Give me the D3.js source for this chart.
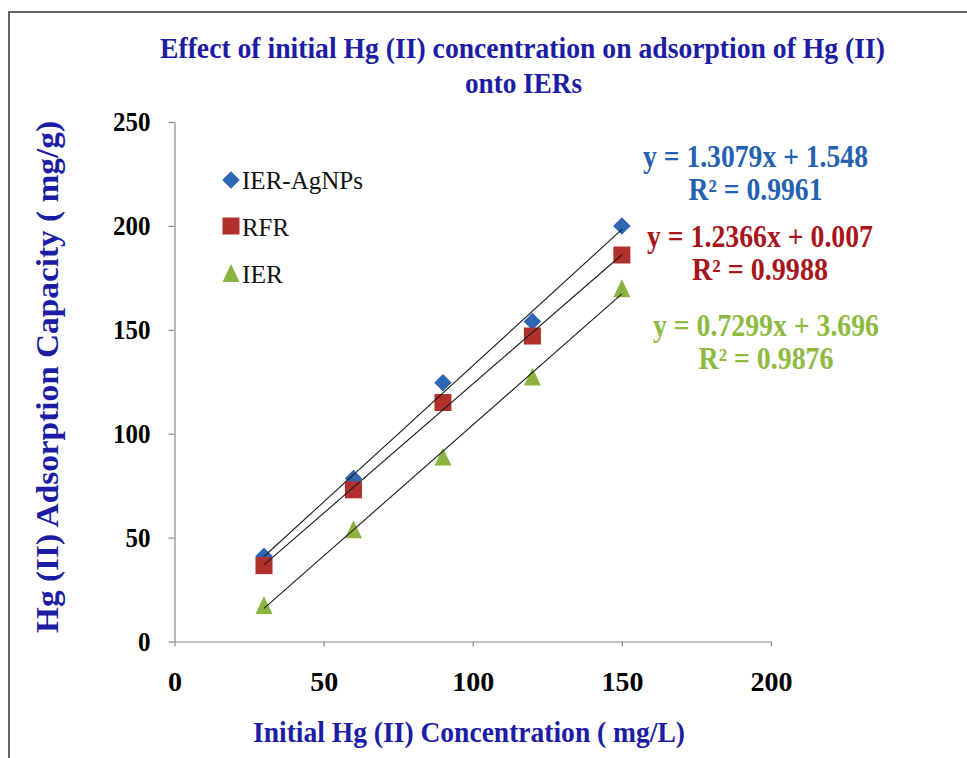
<!DOCTYPE html>
<html>
<head>
<meta charset="utf-8">
<script src="https://cdn.jsdelivr.net/npm/d3@7"></script>
<style>
  body { margin: 0; background: #fff; }
  svg { display: block; }
</style>
</head>
<body>
<svg id="chart" width="967" height="758"></svg>
<script>
// Initial Hg(II) concentration (mg/L) and adsorption capacity (mg/g) of each resin
const concentrations = [30, 60, 90, 120, 150];
const seriesNames = ["IER-AgNPs", "RFR", "IER"];
const agnpsValues = [41, 78.5, 124.5, 154, 200];
const rfrValues = [36.5, 73, 115, 147, 186];
const ierValues = [17.5, 54, 89, 127.5, 170];
const equationLines = [
  ["y = 1.3079x + 1.548", "R² = 0.9961"],
  ["y = 1.2366x + 0.007", "R² = 0.9988"],
  ["y = 0.7299x + 3.696", "R² = 0.9876"]
];
const xTickValues = [0, 50, 100, 150, 200];
const yTickValues = [0, 50, 100, 150, 200, 250];

const titleLines = ["Effect of initial Hg (II) concentration on adsorption of Hg (II)", "onto IERs"];
const xTitle = "Initial Hg (II) Concentration ( mg/L)";
const yTitle = "Hg (II) Adsorption Capacity ( mg/g)";

const seriesValues = [agnpsValues, rfrValues, ierValues];
const markerColors = ["#2E66B4", "#B2302C", "#8AB33F"];
const equationColors = ["#2461B0", "#A8161C", "#8DBB3F"];
const titleColor = "#1C1CA4";
const serif = "'Liberation Serif', 'Times New Roman', serif";

const svg = d3.select("#chart");

// outer frame of the chart area
svg.append("rect")
  .attr("x", 9).attr("y", 12)
  .attr("width", 1000).attr("height", 800)
  .attr("fill", "#fff")
  .attr("stroke", "#666").attr("stroke-width", 2);

const x = d3.scaleLinear().domain([0, 200]).range([174.5, 771]);
const y = d3.scaleLinear().domain([0, 250]).range([641.5, 122]);

// Excel-like marker shapes
const diamondShape = {
  draw(ctx, size) {
    const r = Math.sqrt(size) / 2;
    ctx.moveTo(0, -r); ctx.lineTo(r, 0); ctx.lineTo(0, r); ctx.lineTo(-r, 0); ctx.closePath();
  }
};
const squareShape = {
  draw(ctx, size) {
    const r = Math.sqrt(size) / 2;
    ctx.rect(-r, -r, 2 * r, 2 * r);
  }
};
const triangleShape = {
  draw(ctx, size) {
    const r = Math.sqrt(size) / 2;
    ctx.moveTo(0, -r * 1.05); ctx.lineTo(r, r * 1.05); ctx.lineTo(-r, r * 1.05); ctx.closePath();
  }
};
const shapes = [diamondShape, squareShape, triangleShape];
const shapeSizes = [17.5 * 17.5, 17 * 17, 17 * 17];

// axes
const axisColor = "#8a8a8a";
const xAxis = d3.axisBottom(x).tickValues(xTickValues).tickSize(5).tickSizeOuter(0).tickPadding(25);
const yAxis = d3.axisLeft(y).tickValues(yTickValues).tickSize(6).tickSizeOuter(0).tickPadding(18);

const gx = svg.append("g").attr("transform", `translate(0,${y(0)})`).call(xAxis);
const gy = svg.append("g").attr("transform", `translate(${x(0)},0)`).call(yAxis);

[[gx, 14], [gy, 12.5]].forEach(([g, digitWidth]) => {
  g.select(".domain").attr("stroke", axisColor).attr("stroke-width", 1.2);
  g.selectAll(".tick line").attr("stroke", axisColor).attr("stroke-width", 1.2);
  g.selectAll(".tick text")
    .attr("fill", "#000")
    .attr("textLength", d => String(d).length * digitWidth)
    .attr("lengthAdjust", "spacingAndGlyphs")
    .style("font-family", serif)
    .style("font-weight", "bold")
    .style("font-size", "28px");
});

// data markers
seriesValues.forEach((vals, si) => {
  const sym = d3.symbol().type(shapes[si]).size(shapeSizes[si]);
  svg.append("g")
    .selectAll("path")
    .data(vals.map((v, i) => [concentrations[i], v]))
    .join("path")
    .attr("d", sym)
    .attr("transform", d => `translate(${x(d[0])},${y(d[1])})`)
    .attr("fill", markerColors[si]);
});

// linear trend lines from least-squares fits
function linearFit(xs, ys) {
  const mx = d3.mean(xs), my = d3.mean(ys);
  const sxy = d3.sum(xs, (v, i) => (v - mx) * (ys[i] - my));
  const sxx = d3.sum(xs, v => (v - mx) * (v - mx));
  const slope = sxy / sxx;
  return { slope, intercept: my - slope * mx };
}
const line = d3.line().x(d => x(d[0])).y(d => y(d[1]));
seriesValues.forEach(vals => {
  const f = linearFit(concentrations, vals);
  const ends = d3.extent(concentrations).map(c => [c, f.intercept + f.slope * c]);
  svg.append("path")
    .attr("d", line(ends))
    .attr("fill", "none")
    .attr("stroke", "#1a1a1a")
    .attr("stroke-width", 1.1);
});

// legend
const legendRows = [189, 236, 283];
const legendMarkerY = [180, 226, 273];
seriesNames.forEach((name, si) => {
  svg.append("path")
    .attr("d", d3.symbol().type(shapes[si]).size(shapeSizes[si])())
    .attr("transform", `translate(231,${legendMarkerY[si]})`)
    .attr("fill", markerColors[si]);
  svg.append("text")
    .attr("x", 242).attr("y", legendRows[si])
    .style("font-family", serif)
    .style("font-size", "26px")
    .attr("textLength", [121, 47, 41][si])
    .attr("lengthAdjust", "spacingAndGlyphs")
    .attr("fill", "#111")
    .text(name);
});

// trend line equations
const eqCenters = [[755.5, 167, 225], [760, 247, 226], [766, 336, 226]];
const r2Widths = [134, 136, 135];
equationLines.forEach((pair, si) => {
  const [cx, by, w] = eqCenters[si];
  pair.forEach((txt, li) => {
    svg.append("text")
      .attr("x", cx).attr("y", by + li * 33)
      .attr("text-anchor", "middle")
      .attr("textLength", li === 0 ? w : r2Widths[si])
      .attr("lengthAdjust", "spacingAndGlyphs")
      .style("font-family", serif)
      .style("font-weight", "bold")
      .style("font-size", "31px")
      .attr("fill", equationColors[si])
      .text(txt);
  });
});

// chart title
const titleWidths = [725, 117];
const titleBaselines = [58, 93];
titleLines.forEach((t, i) => {
  svg.append("text")
    .attr("x", i === 0 ? 522.5 : 523.5).attr("y", titleBaselines[i])
    .attr("text-anchor", "middle")
    .attr("textLength", titleWidths[i])
    .attr("lengthAdjust", "spacingAndGlyphs")
    .style("font-family", serif)
    .style("font-weight", "bold")
    .style("font-size", "28.5px")
    .attr("fill", titleColor)
    .text(t);
});

// axis titles
svg.append("text")
  .attr("x", 469).attr("y", 742)
  .attr("text-anchor", "middle")
  .attr("textLength", 432)
  .attr("lengthAdjust", "spacingAndGlyphs")
  .style("font-family", serif)
  .style("font-weight", "bold")
  .style("font-size", "30px")
  .attr("fill", titleColor)
  .text(xTitle);

svg.append("text")
  .attr("transform", "translate(58,377) rotate(-90)")
  .attr("text-anchor", "middle")
  .attr("textLength", 512)
  .attr("lengthAdjust", "spacingAndGlyphs")
  .style("font-family", serif)
  .style("font-weight", "bold")
  .style("font-size", "31px")
  .attr("fill", titleColor)
  .text(yTitle);
</script>
</body>
</html>
